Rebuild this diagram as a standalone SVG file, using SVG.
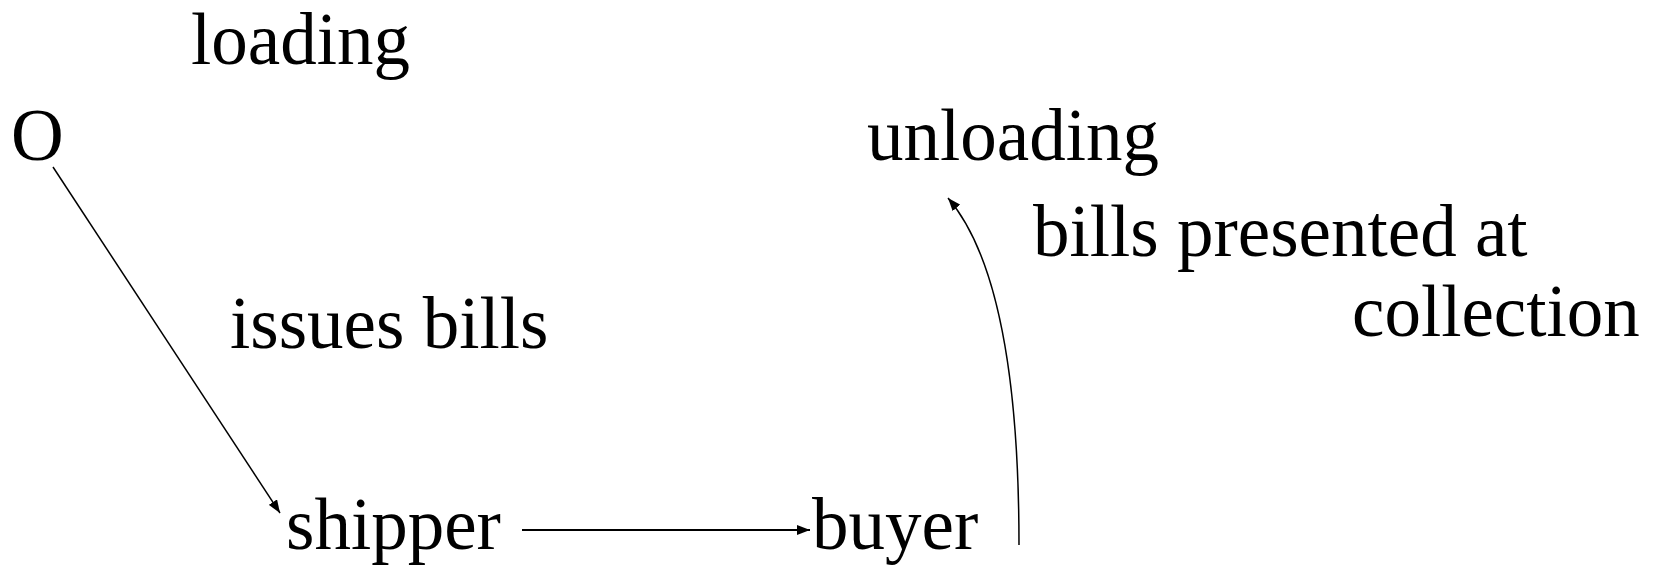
<svg xmlns="http://www.w3.org/2000/svg" width="1659" height="567" viewBox="0 0 1659 567">
  <style>
    text { font-family: "Liberation Serif", "Times New Roman", serif; font-size: 73px; fill: #000; }
    .edge { fill: none; stroke: #000; }
  </style>
  <defs>
    <marker id="arrow" viewBox="0 0 13 10" refX="13" refY="5" markerWidth="13" markerHeight="10" markerUnits="userSpaceOnUse" orient="auto">
      <path d="M0,0 L13,5 L0,10 Z" fill="#000"/>
    </marker>
  </defs>
  <rect width="1659" height="567" fill="#fff"/>

  <!-- connectors -->
  <g id="connectors">
    <line class="edge" x1="53" y1="167" x2="280" y2="513" stroke-width="1.5" marker-end="url(#arrow)"/>
    <line class="edge" x1="522" y1="530" x2="810" y2="530" stroke-width="2" marker-end="url(#arrow)"/>
    <path class="edge" d="M1019,545 C1019,420 1008,268 948,198" stroke-width="1.5" marker-end="url(#arrow)"/>
  </g>

  <!-- nodes -->
  <g id="node-origin"><text x="11" y="160">O</text></g>
  <g id="node-shipper"><text x="286" y="549">shipper</text></g>
  <g id="node-buyer"><text x="812" y="549">buyer</text></g>

  <!-- labels -->
  <g id="label-loading"><text x="191" y="64">loading</text></g>
  <g id="label-issues"><text x="230" y="348">issues bills</text></g>
  <g id="label-unloading"><text x="867" y="160">unloading</text></g>
  <g id="label-presented">
    <text x="1033" y="256">bills presented at</text>
    <text x="1352" y="336">collection</text>
  </g>
</svg>
